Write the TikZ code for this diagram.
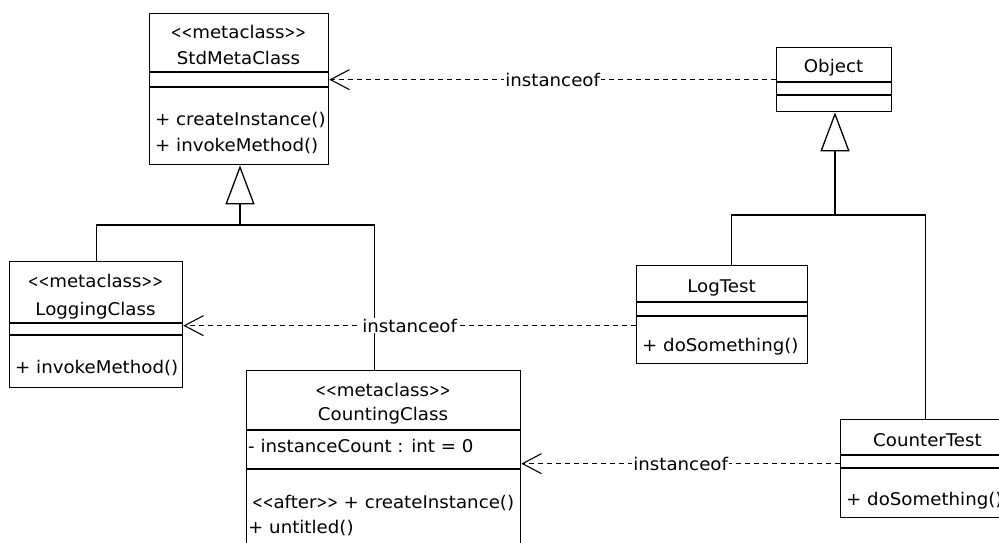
\documentclass[tikz,border=0pt]{standalone}
\usepackage{fontspec}
\usepackage{graphicx}
\setmainfont{DejaVu Sans}[Ligatures=TeXOff, FakeStretch=1.04]
\usetikzlibrary{arrows.meta}
\newcommand\myLT{\scalebox{0.7}[1]{<}}
\newcommand\myGT{\scalebox{0.7}[1]{>}}
\begin{document}
\begin{tikzpicture}[x=1pt,y=-1pt,
  box/.style={draw, line width=1.3pt, rectangle, inner sep=0pt, anchor=north west},
  txt/.style={anchor=base, inner sep=0pt, text=black, font=\fontsize{17.5}{20}\selectfont},
  ltxt/.style={txt, anchor=base west},
  sep/.style={line width=1.3pt},
  conn/.style={line width=1.3pt},
  gen/.style={line width=1.3pt, -{Triangle[open, length=39pt, width=29pt]}},
  inst/.style={line width=1.1pt, dash pattern=on 5pt off 4pt, -{Straight Barb[length=19pt, width=20pt]}},
  lbl/.style={fill=white, inner xsep=1pt, inner ysep=1pt, text=black, font=\fontsize{17.5}{20}\selectfont}
]
\clip (0,0) rectangle (999,542);
\fill[white] (0,0) rectangle (999,542);

% StdMetaClass
\node[box, minimum width=179pt, minimum height=151pt] (std) at (149,13) {};
\draw[sep] (149,72) -- (328,72);
\draw[sep] (149,87) -- (328,87);
\node[txt] (stdst) at (238.5,38) {\myLT\myLT metaclass\myGT\myGT};
\node[txt] (stdnm) at (238.5,64) {StdMetaClass};
\node[ltxt] (stdm1) at (155,125) {+ createInstance()};
\node[ltxt] (stdm2) at (155,151) {+ invokeMethod()};

% LoggingClass
\node[box, minimum width=173pt, minimum height=126pt] (log) at (9,261) {};
\draw[sep] (9,323) -- (182,323);
\draw[sep] (9,335) -- (182,335);
\node[txt] (logst) at (95.5,287) {\myLT\myLT metaclass\myGT\myGT};
\node[txt] (lognm) at (95.5,315) {LoggingClass};
\node[ltxt] (logm1) at (15,373) {+ invokeMethod()};

% CountingClass
\node[box, minimum width=274pt, minimum height=190pt] (cnt) at (246,370) {};
\draw[sep] (246,430) -- (520,430);
\draw[sep] (246,469) -- (520,469);
\node[txt] (cntst) at (383,396) {\myLT\myLT metaclass\myGT\myGT};
\node[txt] (cntnm) at (383,420) {CountingClass};
\node[ltxt] (cnta1) at (248,452) {- instanceCount : int = 0};
\node[ltxt] (cntm1) at (252,508) {\myLT\myLT after\myGT\myGT\ + createInstance()};
\node[ltxt] (cntm2) at (248,533) {+ untitled()};

% Object
\node[box, minimum width=115pt, minimum height=64pt] (obj) at (776,47) {};
\draw[sep] (776,82) -- (891,82);
\draw[sep] (776,95) -- (891,95);
\node[txt] (objnm) at (833.5,72) {Object};

% LogTest
\node[box, minimum width=171pt, minimum height=98pt] (lt) at (636,265) {};
\draw[sep] (636,302) -- (807,302);
\draw[sep] (636,316) -- (807,316);
\node[txt] (ltnm) at (721.5,292) {LogTest};
\node[ltxt] (ltm1) at (642,351) {+ doSomething()};

% CounterTest
\node[box, minimum width=175pt, minimum height=98pt] (ct) at (840,419) {};
\draw[sep] (840,455) -- (1015,455);
\draw[sep] (840,468) -- (1015,468);
\node[txt] (ctnm) at (927.5,446) {CounterTest};
\node[ltxt] (ctm1) at (846,505) {+ doSomething()};

% generalizations
\coordinate (j1) at (240,225);
\draw[gen] (j1) -- (j1 |- std.south);
\draw[conn] ([xshift=0.5pt]log.north) |- (j1) -| ([xshift=-9pt]cnt.north);

\coordinate (j2) at (835,215);
\draw[gen] (j2) -- (j2 |- obj.south);
\draw[conn] ([xshift=9.5pt]lt.north) |- (j2) -| ([xshift=-2.5pt]ct.north);

% instanceof dependencies
\draw[inst] (obj.west) -- (std.east |- obj.west) node[lbl, midway] {instanceof};
\draw[inst] ([yshift=-11pt]lt.west) coordinate (a1) -- (log.east |- a1) node[lbl, midway] {instanceof};
\draw[inst] ([yshift=5pt]ct.west) coordinate (a2) -- (cnt.east |- a2) node[lbl, midway] {instanceof};
\end{tikzpicture}
\end{document}
